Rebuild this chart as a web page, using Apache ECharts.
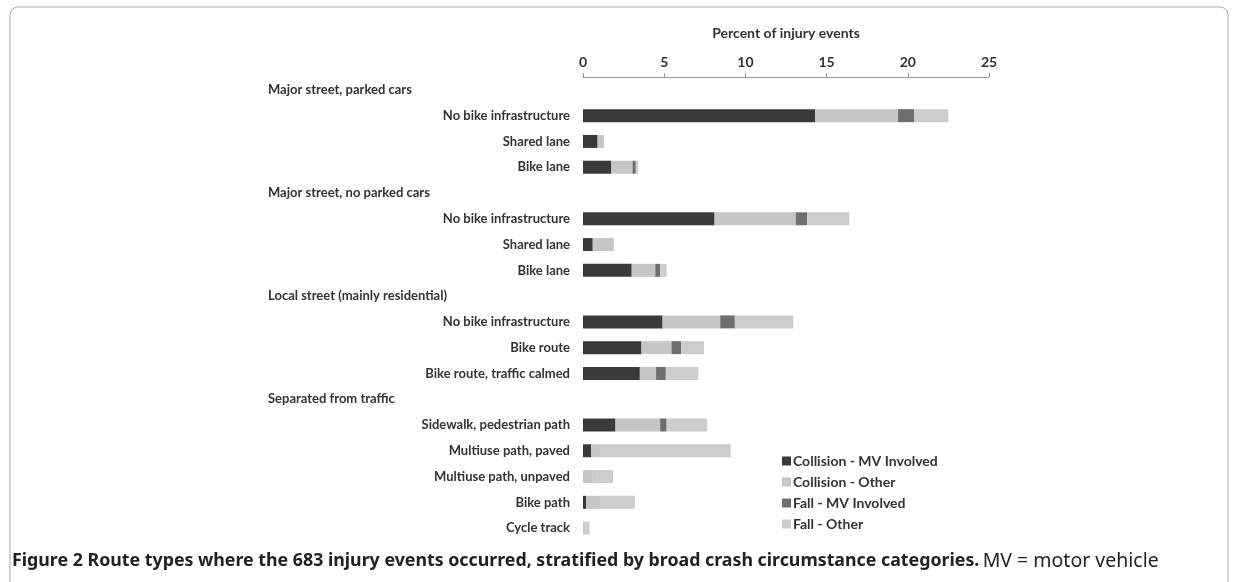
<!DOCTYPE html>
<html>
<head>
<meta charset="utf-8">
<script src="https://cdn.jsdelivr.net/npm/echarts@6/dist/echarts.min.js"></script>
<style>
html,body{margin:0;padding:0;background:#fff;}
#chart{width:1238px;height:582px;}
</style>
</head>
<body>
<div id="chart"></div>
<script>
const categories = [
  'Major street, parked cars', 'No bike infrastructure', 'Shared lane', 'Bike lane',
  'Major street, no parked cars', 'No bike infrastructure', 'Shared lane', 'Bike lane',
  'Local street (mainly residential)', 'No bike infrastructure', 'Bike route', 'Bike route, traffic calmed',
  'Separated from traffic', 'Sidewalk, pedestrian path', 'Multiuse path, paved', 'Multiuse path, unpaved', 'Bike path', 'Cycle track'
];
const isHeader = [true,false,false,false,true,false,false,false,true,false,false,false,true,false,false,false,false,false];
const collisionMV    = [null, 14.3, 0.9, 1.75, null, 8.1, 0.6, 3.0, null, 4.9, 3.6, 3.5, null, 2.0, 0.5, 0, 0.2, 0];
const collisionOther = [null, 5.1, 0.4, 1.3, null, 5.0, 1.3, 1.45, null, 3.55, 1.85, 1.0, null, 2.75, 0.6, 0.6, 0.9, 0.15];
const fallMV         = [null, 1.0, 0, 0.2, null, 0.7, 0, 0.3, null, 0.9, 0.6, 0.6, null, 0.4, 0, 0, 0, 0];
const fallOther      = [null, 2.1, 0, 0.15, null, 2.6, 0, 0.4, null, 3.6, 1.4, 2.0, null, 2.5, 8.0, 1.25, 2.1, 0.25];
const seriesNames = ['Collision - MV Involved', 'Collision - Other', 'Fall - MV Involved', 'Fall - Other'];
const xTicks = [0, 5, 10, 15, 20, 25];

const colors = ['#3a3a3a', '#c6c6c6', '#6e6e6e', '#cdcdcd'];
const FONT = 'Lato';
const chart = echarts.init(document.getElementById('chart'));
const dataSets = [collisionMV, collisionOther, fallMV, fallOther];

chart.setOption({
  backgroundColor: '#fff',
  animation: false,
  grid: { left: 583, right: 249, top: 77, bottom: 41, containLabel: false },
  xAxis: {
    type: 'value', position: 'top', min: xTicks[0], max: xTicks[xTicks.length-1], interval: 5,
    name: 'Percent of injury events', nameLocation: 'middle', nameGap: 37,
    nameTextStyle: { fontFamily: FONT, fontWeight: 'bold', fontSize: 14, color: '#333' },
    axisLine: { show: true, lineStyle: { color: '#999', width: 1 } },
    axisTick: { show: true, length: 4, inside: false, lineStyle: { color: '#999' } },
    axisLabel: { fontFamily: FONT, fontWeight: 'bold', fontSize: 14, color: '#333', margin: 8 },
    splitLine: { show: false }
  },
  yAxis: {
    type: 'category', data: categories, inverse: true,
    axisLine: { show: false }, axisTick: { show: false },
    axisLabel: {
      margin: 13, fontFamily: FONT, fontWeight: 'bold', fontSize: 13, color: '#333',
      formatter: function (v, i) { return isHeader[i] ? '{h|' + v + '}' : v; },
      rich: { h: { width: 302, align: 'left', fontFamily: FONT, fontWeight: 'bold', fontSize: 13, color: '#333' } }
    }
  },
  legend: {
    orient: 'vertical', left: 777, top: 449, itemGap: 7, itemWidth: 9, itemHeight: 9,
    icon: 'rect', data: seriesNames,
    textStyle: { fontFamily: FONT, fontWeight: 'bold', fontSize: 14, color: '#333', padding: [0,0,0,-3] }
  },
  series: seriesNames.map((n, k) => ({
    name: n, type: 'bar', stack: 'total', barWidth: 13,
    itemStyle: { color: colors[k] },
    data: dataSets[k]
  })),
  graphic: [
    { type: 'rect', shape: { x: 10, y: 7, width: 1218, height: 620, r: 8 }, style: { fill: 'none', stroke: '#aaa', lineWidth: 1 }, silent: true },
    { type: 'text', left: 12, top: 551, style: {
        text: '{b|Figure 2 Route types where the 683 injury events occurred, stratified by broad crash circumstance categories.} {n|MV = motor vehicle}',
        rich: {
          b: { fontFamily: 'Noto Sans', fontWeight: 'bold', fontSize: 17.8, fill: '#222' },
          n: { fontFamily: 'Noto Sans', fontSize: 19.5, fill: '#222' }
        }
    } }
  ]
});
</script>
</body>
</html>
